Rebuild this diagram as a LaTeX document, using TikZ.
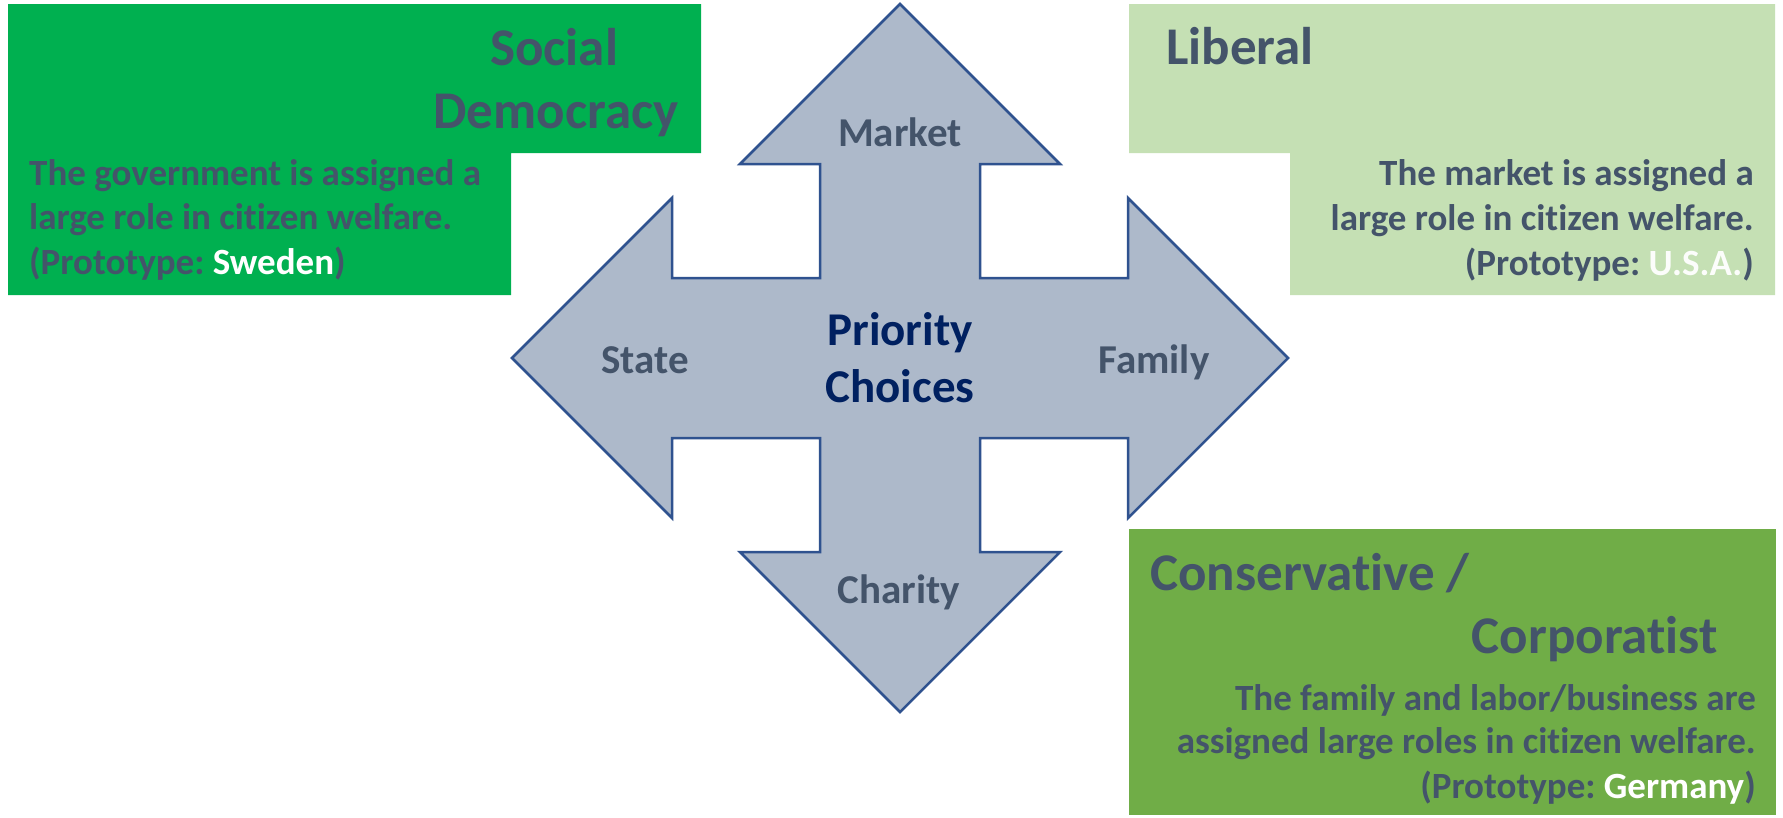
\documentclass[tikz,border=0pt]{standalone}
\usepackage{fontspec}
\setmainfont{Carlito}[Ligatures=NoCommon]
\frenchspacing
\definecolor{sdgreen}{HTML}{00B050}
\definecolor{libgreen}{HTML}{C5E0B4}
\definecolor{congreen}{HTML}{70AD47}
\definecolor{txt}{HTML}{44546A}
\definecolor{navy}{HTML}{002060}
\definecolor{arrowfill}{HTML}{ADB9CA}
\definecolor{arrowline}{HTML}{2F528F}
\begin{document}
\begin{tikzpicture}[x=1pt,y=-1pt,
  title/.style={font=\fontsize{53}{64}\selectfont\bfseries, text=txt, inner sep=0pt},
  body/.style={font=\fontsize{37}{45}\selectfont\bfseries, text=txt, inner sep=0pt},
  armlabel/.style={font=\fontsize{41}{49}\selectfont\bfseries, text=txt, inner sep=0pt},
  centerlabel/.style={font=\fontsize{47}{57}\selectfont\bfseries, text=navy, inner sep=0pt},
  crossarrow/.style={fill=arrowfill, draw=arrowline, line width=2.5pt, line join=miter}]
\useasboundingbox (0,0) rectangle (1783,817);
\fill[white] (0,0) rectangle (1783,817);

% coloured boxes
\fill[sdgreen] (8,4) -- (701,4) -- (701,153) -- (511,153) -- (511,295) -- (8,295) -- cycle;
\fill[libgreen] (1129,4) -- (1775,4) -- (1775,295) -- (1290,295) -- (1290,153) -- (1129,153) -- cycle;
\fill[congreen] (1129,529) rectangle (1776,815);

% four-way arrow
\draw[crossarrow] (900,4) -- (1060,164) -- (980,164) -- (980,278) -- (1128,278) -- (1128,198)
  -- (1288,358) -- (1128,518) -- (1128,438) -- (980,438) -- (980,552) -- (1060,552)
  -- (900,712) -- (740,552) -- (820,552) -- (820,438) -- (672,438) -- (672,518)
  -- (512,358) -- (672,198) -- (672,278) -- (820,278) -- (820,164) -- (740,164) -- cycle;

% arrow labels
\node[armlabel, anchor=base] (market) at (900,146) {Market};
\node[armlabel, anchor=base] (state) at (645,373) {State};
\node[armlabel, anchor=base] (family) at (1154,373) {Family};
\node[armlabel, anchor=base] (charity) at (899,603) {Charity};
\node[centerlabel, anchor=base] (prio1) at (900,345) {Priority};
\node[centerlabel, anchor=base] (prio2) at (900,402) {Choices};

% Social Democracy
\node[title, anchor=base] (sd1) at (554,65) {Social};
\node[title, anchor=base] (sd2) at (556,128) {Democracy};
\node[body, anchor=base west] (sdb1) at (29,185) {The government is assigned a};
\node[body, anchor=base west] (sdb2) at (29,229) {large role in citizen welfare.};
\node[body, anchor=base west] (sdb3) at (29,274) {(Prototype: \textcolor{white}{Sweden})};

% Liberal
\node[title, anchor=base west] (lib1) at (1166,64) {Liberal};
\node[body, anchor=base east] (libb1) at (1754,185) {The market is assigned a};
\node[body, anchor=base east] (libb2) at (1754,230) {large role in citizen welfare.};
\node[body, anchor=base east] (libb3) at (1754,275) {(Prototype: \textcolor{white!95!libgreen}{U.S.A.})};

% Conservative / Corporatist
\node[title, anchor=base west] (con1) at (1150,590) {Conservative /};
\node[title, anchor=base east] (con2) at (1718,653) {Corporatist};
\node[body, anchor=base east] (conb1) at (1756,710) {The family and labor/business are};
\node[body, anchor=base east] (conb2) at (1756,753) {assigned large roles in citizen welfare.};
\node[body, anchor=base east] (conb3) at (1756,798) {(Prototype: \textcolor{white}{Germany})};
\end{tikzpicture}
\end{document}
